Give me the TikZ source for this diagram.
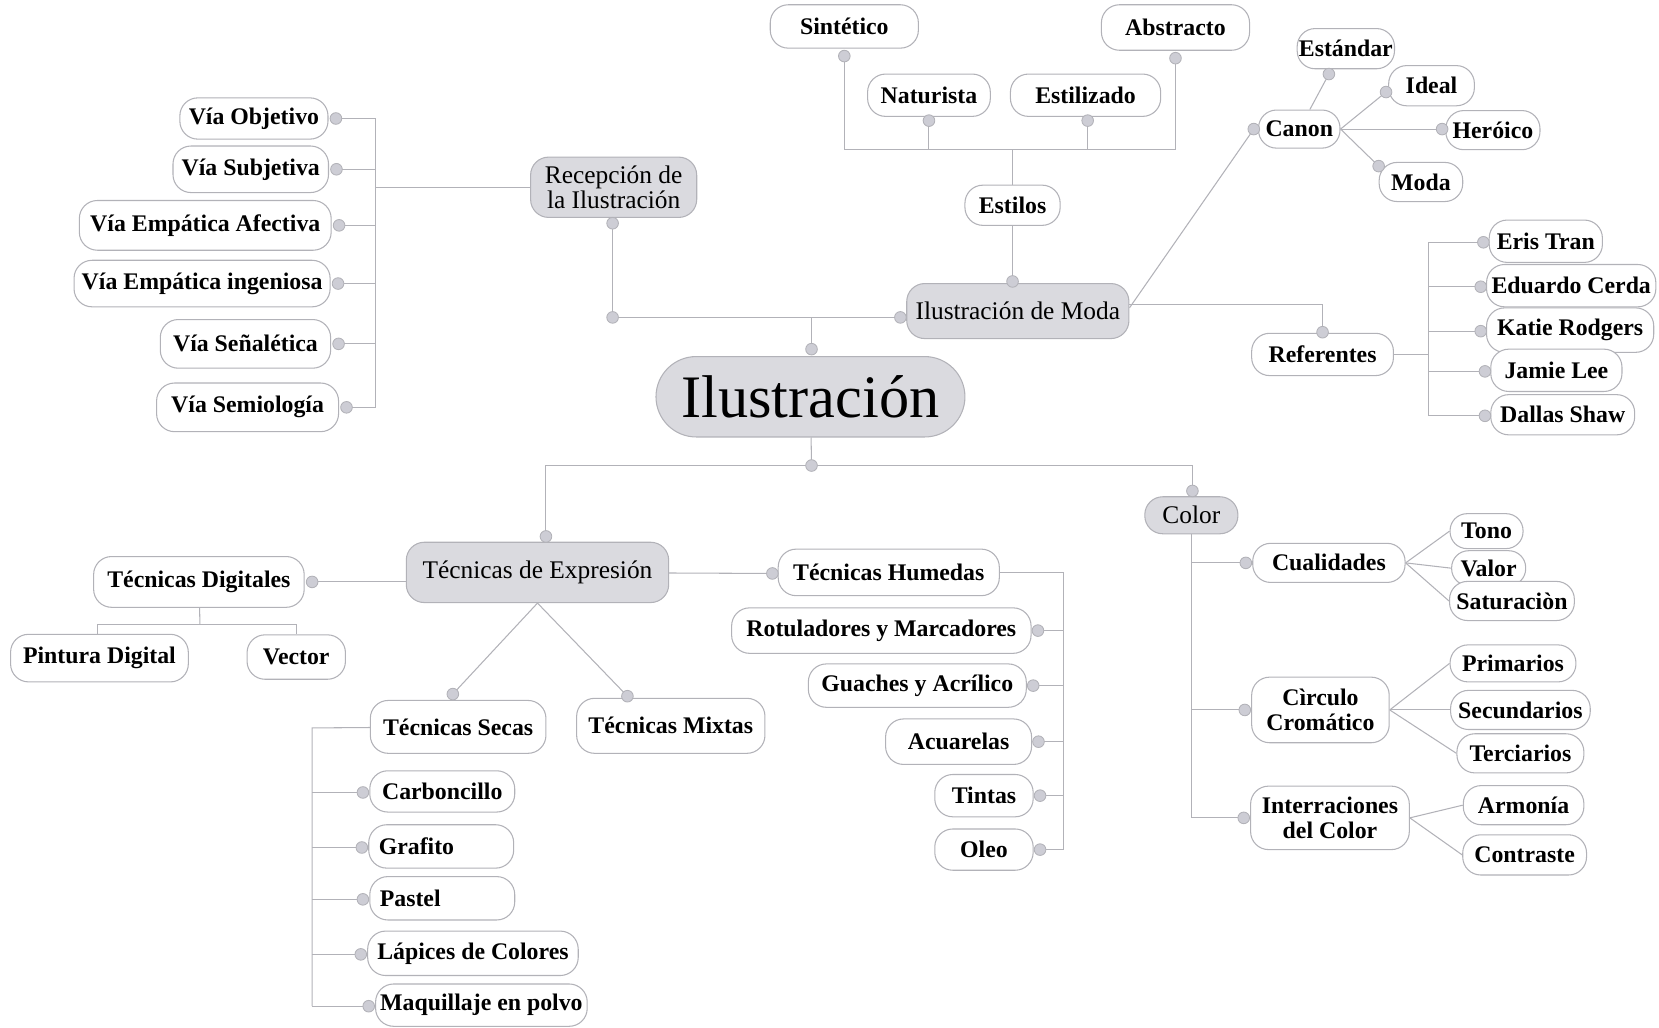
\documentclass[tikz,border=0pt]{standalone}
\usepackage{fontspec}
\setmainfont{Liberation Serif}
\usetikzlibrary{backgrounds}
\definecolor{linegray}{RGB}{178,178,184}
\definecolor{boxgray}{RGB}{218,218,223}
\definecolor{dotgray}{RGB}{205,205,213}
\begin{document}
\begin{tikzpicture}[x=1pt, y=-1pt,
  font=\fontsize{22.5}{24}\selectfont\bfseries,
  leaf/.style={draw=linegray, fill=white, rounded corners=17pt, minimum height=40pt, inner sep=0pt, line width=1pt, align=center},
  main/.style={leaf, fill=boxgray, font=\fontsize{24}{23}\selectfont},
  dot/.style={circle, draw=linegray, fill=dotgray, minimum size=11pt, inner sep=0pt, line width=0.8pt},
  conn/.style={draw=linegray, line width=1pt}]

  \useasboundingbox (0,0) rectangle (1568,971);

  % Main nodes
  \node[main, minimum width=292pt, minimum height=76pt, rounded corners=38pt, font=\fontsize{57}{60}\selectfont] (ilus) at (766,375) {Ilustración};
  \node[main, minimum width=210pt, minimum height=52pt] (moda) at (962,294) {Ilustración de Moda};
  \node[main, minimum width=157pt, minimum height=57pt] (recep) at (580,177) {Recepción de\\la Ilustración};
  \node[main, minimum width=248pt, minimum height=57pt] (expr) at (508,541) {Técnicas de Expresión};
  \node[main, minimum width=88pt, minimum height=35pt] (color) at (1126,487) {Color};

  % Estilos
  \node[leaf, minimum width=140pt, minimum height=41pt] (sint) at (798,25) {Sintético};
  \node[leaf, minimum width=140pt, minimum height=43pt] (abst) at (1111,26) {Abstracto};
  \node[leaf, minimum width=116pt] (nat) at (878,90) {Naturista};
  \node[leaf, minimum width=142pt] (estiliz) at (1026,90) {Estilizado};
  \node[leaf, minimum width=90pt, minimum height=38pt] (estilos) at (957,194) {Estilos};
  \node[dot] (d-sint) at (798,53) {};
  \node[dot] (d-nat) at (878,114) {};
  \node[dot] (d-estiliz) at (1028,114) {};
  \node[dot] (d-abst) at (1111,55) {};
  \node[dot] (d-modaT) at (957,266) {};
  \coordinate (bar) at (957,141);

  % Recepcion
  \node[leaf, minimum width=140pt, minimum height=39pt] (vobj) at (240,112) {Vía Objetivo};
  \node[leaf, minimum width=147pt, minimum height=44pt] (vsub) at (237,160) {Vía Subjetiva};
  \node[leaf, minimum width=238pt, minimum height=47pt] (vafec) at (194,213) {Vía Empática Afectiva};
  \node[leaf, minimum width=242pt, minimum height=44pt] (vinge) at (191,268) {Vía Empática ingeniosa};
  \node[leaf, minimum width=161pt, minimum height=46pt] (vsenal) at (232,325) {Vía Señalética};
  \node[leaf, minimum width=172pt, minimum height=46pt] (vsemio) at (234,385) {Vía Semiología};
  \foreach \n in {vobj,vsub,vafec,vinge,vsenal,vsemio}
    \node[dot] (d-\n) at ([xshift=7pt]\n.east) {};
  \coordinate (rbar) at (355,177);
  \node[dot] (d-recep) at (579,211) {};
  \node[dot] (d-corner) at (579,300) {};
  \node[dot] (d-modaL) at (851,300) {};
  \node[dot] (d-ilusT) at (767,330) {};

  % Canon
  \node[leaf, minimum width=77pt, minimum height=36pt] (canon) at (1228,122) {Canon};
  \node[leaf, minimum width=92pt, minimum height=38pt] (estand) at (1272,46) {Estándar};
  \node[leaf, minimum width=81pt, minimum height=38pt] (ideal) at (1353,81) {Ideal};
  \node[leaf, minimum width=89pt, minimum height=37pt] (heroico) at (1411,123) {Heróico};
  \node[leaf, minimum width=79pt, minimum height=37pt] (modac) at (1343,172) {Moda};
  \node[dot] (d-canon) at (1185,122) {};
  \node[dot] (d-estand) at (1256,70) {};
  \node[dot] (d-ideal) at (1310,87) {};
  \node[dot] (d-heroico) at (1363,122) {};
  \node[dot] (d-modac) at (1303,157) {};

  % Referentes
  \node[leaf, minimum width=134pt] (refs) at (1250,335) {Referentes};
  \node[dot] (d-refs) at (1250,314) {};
  \node[leaf, minimum width=107pt] (eris) at (1461,228) {Eris Tran};
  \node[leaf, minimum width=160pt] (educ) at (1485,270) {Eduardo Cerda};
  \node[leaf, minimum width=158pt, minimum height=42pt] (katie) at (1484,312) {Katie Rodgers};
  \node[leaf, minimum width=124pt] (jamie) at (1471,350) {Jamie Lee};
  \node[leaf, minimum width=136pt, minimum height=38pt] (dallas) at (1477,392) {Dallas Shaw};
  \foreach \n in {eris,educ,katie,jamie,dallas}
    \node[dot] (d-\n) at ([xshift=-5pt,yshift=-1pt]\n.west) {};
  \coordinate (rfbar) at (1350,335);

  % Tecnicas
  \node[dot] (d-ilusB) at (767,440) {};
  \node[dot] (d-exprT) at (516,507) {};
  \node[dot] (d-colorT) at (1127,464) {};
  \node[leaf, minimum width=199pt, minimum height=48pt] (tdig) at (188,550) {Técnicas Digitales};
  \node[dot] (d-tdig) at ([xshift=7pt]tdig.east) {};
  \node[leaf, minimum width=168pt, minimum height=45pt] (pint) at (94,622) {Pintura Digital};
  \node[leaf, minimum width=93pt, minimum height=42pt] (vector) at (280,621) {Vector};
  \coordinate (dbar) at (189,590);
  \node[leaf, minimum width=166pt, minimum height=50pt] (tsecas) at (433,687) {Técnicas Secas};
  \node[leaf, minimum width=178pt, minimum height=52pt] (tmix) at (634,686) {Técnicas Mixtas};
  \node[leaf, minimum width=209pt, minimum height=44pt] (thum) at (840,541) {Técnicas Humedas};
  \node[dot] (d-tsecas) at (428,656) {};
  \node[dot] (d-tmix) at (593,658) {};
  \node[dot] (d-thum) at (730,542) {};

  % Secas
  \node[leaf, minimum width=137pt, minimum height=39pt] (carb) at (418,748) {Carboncillo};
  \node[leaf, minimum width=137pt, minimum height=41pt] (graf) at (417,800) {\makebox[118pt][l]{Grafito}};
  \node[leaf, minimum width=137pt, minimum height=41pt] (pastel) at (418,849) {\makebox[118pt][l]{Pastel}};
  \node[leaf, minimum width=199pt, minimum height=42pt] (lapic) at (447,901) {Lápices de Colores};
  \node[leaf, minimum width=200pt, minimum height=40pt] (maqu) at (455,950) {Maquillaje en polvo};
  \foreach \n in {carb,graf,pastel,lapic,maqu}
    \node[dot] (d-\n) at ([xshift=-6pt,yshift=-1pt]\n.west) {};
  \coordinate (sbar) at (295,688);

  % Humedas
  \node[leaf, minimum width=283pt, minimum height=43pt] (rotul) at (833,596) {Rotuladores y Marcadores};
  \node[leaf, minimum width=206pt, minimum height=41pt] (guach) at (867,648) {Guaches y Acrílico};
  \node[leaf, minimum width=138pt, minimum height=43pt] (acuar) at (906,701) {Acuarelas};
  \node[leaf, minimum width=93pt] (tintas) at (930,752) {Tintas};
  \node[leaf, minimum width=93pt, minimum height=39pt] (oleo) at (930,803) {Oleo};
  \foreach \n in {rotul,guach,acuar,tintas,oleo}
    \node[dot] (d-\n) at ([xshift=6pt]\n.east) {};
  \coordinate (hbar) at (1005,541);

  % Color
  \node[leaf, minimum width=144pt, minimum height=37pt] (cual) at (1256,532) {Cualidades};
  \node[leaf, minimum width=130pt, minimum height=62pt] (circ) at (1248,671) {Cìrculo\\Cromático};
  \node[leaf, minimum width=150pt, minimum height=60pt] (inter) at (1257,773) {Interraciones\\del Color};
  \foreach \n in {cual,circ,inter}
    \node[dot] (d-\n) at ([xshift=-6pt]\n.west) {};
  \node[leaf, minimum width=69pt, minimum height=33pt, rounded corners=16pt] (tono) at (1405,502) {Tono};
  \node[leaf, minimum width=70pt, minimum height=33pt, rounded corners=16pt] (valor) at (1407,537) {Valor};
  \node[leaf, minimum width=118pt, minimum height=37pt] (satur) at (1429,568) {Saturaciòn};
  \node[leaf, minimum width=119pt, minimum height=35pt] (prim) at (1430,627) {Primarios};
  \node[leaf, minimum width=132pt, minimum height=37pt] (secu) at (1437,671) {Secundarios};
  \node[leaf, minimum width=120pt, minimum height=37pt] (terc) at (1437,712) {Terciarios};
  \node[leaf, minimum width=114pt, minimum height=37pt] (armo) at (1440,761) {Armonía};
  \node[leaf, minimum width=117pt, minimum height=38pt] (contr) at (1441,808) {Contraste};

  % Connections
  \begin{scope}[on background layer]
    \draw[conn] (d-sint.center) |- (bar) -| (d-abst.center);
    \draw[conn] (d-nat.center) -- (d-nat.center |- bar);
    \draw[conn] (d-estiliz.center) -- (d-estiliz.center |- bar);
    \draw[conn] (bar) -- (estilos) -- (d-modaT.center);
    \draw[conn] (recep) -- (rbar);
    \draw[conn] (d-vobj.center -| rbar) -- (d-vsemio.center -| rbar);
    \foreach \n in {vobj,vsub,vafec,vinge,vsenal,vsemio}
      \draw[conn] (d-\n.center) -- (d-\n.center -| rbar);
    \draw[conn] (d-recep.center) -- (d-corner.center) -- (d-modaL.center);
    \draw[conn] (d-ilusT.center) -- (d-ilusT.center |- d-corner);
    \draw[conn] ([yshift=3pt]moda.east) -- (d-canon.center);
    \draw[conn] ([xshift=10pt]canon.north) -- (d-estand.center);
    \foreach \n in {ideal,heroico,modac}
      \draw[conn] (canon.east) -- (d-\n.center);
    \draw[conn] ([yshift=6pt]moda.east) -| (d-refs.center);
    \draw[conn] (refs) -- (rfbar);
    \draw[conn] (d-eris.center -| rfbar) -- (d-dallas.center -| rfbar);
    \foreach \n in {eris,educ,katie,jamie,dallas}
      \draw[conn] (d-\n.center) -- (d-\n.center -| rfbar);
    \draw[conn] (ilus) -- (d-ilusB.center);
    \draw[conn] (d-exprT.center) |- (d-ilusB.center) -| (d-colorT.center);
    \draw[conn] (expr.west |- d-tdig) -- (d-tdig.center);
    \draw[conn] (tdig) -- (dbar);
    \draw[conn] (pint.north -| 92,0) |- (dbar) -| (vector);
    \draw[conn] (expr.south) -- (d-tsecas.center);
    \draw[conn] (expr.south) -- (d-tmix.center);
    \draw[conn] (expr) -- (d-thum.center);
    \draw[conn] (tsecas) -- (sbar) -- (sbar |- d-maqu.center);
    \foreach \n in {carb,graf,pastel,lapic,maqu}
      \draw[conn] (d-\n.center) -- (d-\n.center -| sbar);
    \draw[conn] (thum) -- (hbar) -- (hbar |- d-oleo.center);
    \foreach \n in {rotul,guach,acuar,tintas,oleo}
      \draw[conn] (d-\n.center) -- (d-\n.center -| hbar);
    \draw[conn] (color) -- (color |- d-inter.center);
    \foreach \n in {cual,circ,inter}
      \draw[conn] (d-\n.center) -- (d-\n.center -| color);
    \foreach \n in {tono,valor,satur}
      \draw[conn] (cual.east) -- (\n.west);
    \foreach \n in {prim,secu,terc}
      \draw[conn] (circ.east) -- (\n.west);
    \foreach \n in {armo,contr}
      \draw[conn] (inter.east) -- (\n.west);
  \end{scope}

\end{tikzpicture}
\end{document}
